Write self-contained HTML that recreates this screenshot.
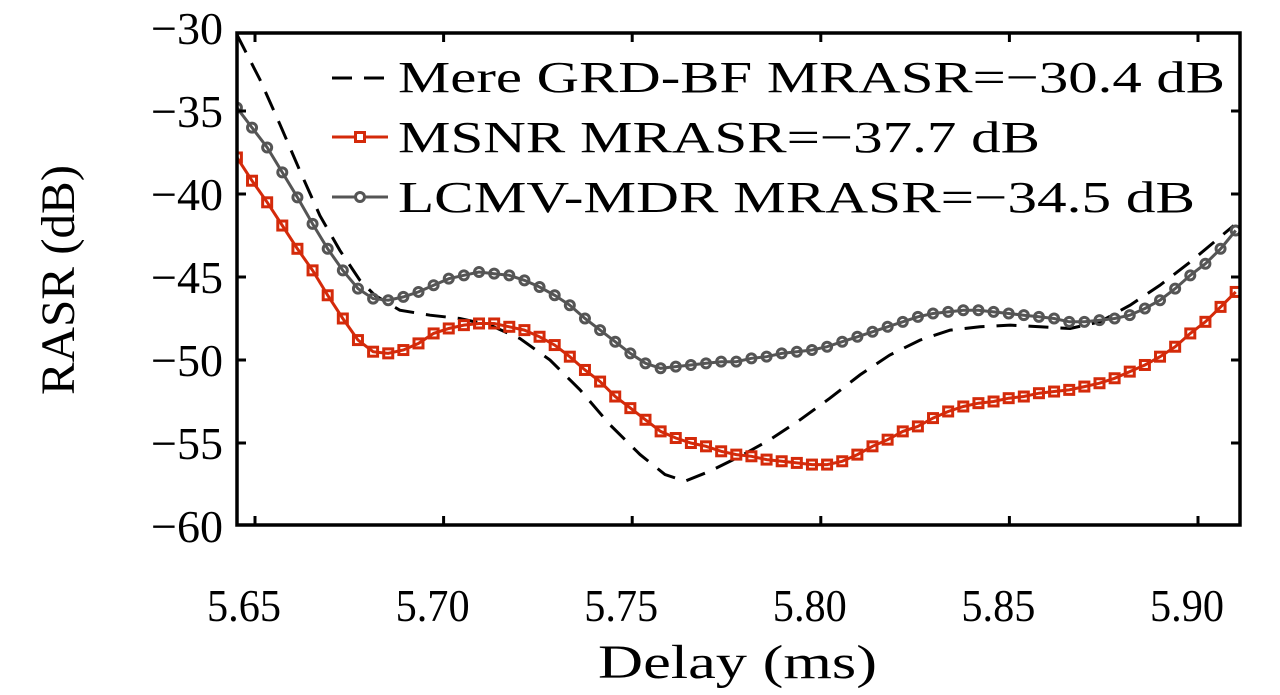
<!DOCTYPE html>
<html><head><meta charset="utf-8"><style>
html,body{margin:0;padding:0;background:#fff;}
svg{display:block;font-family:"Liberation Serif",serif;}
</style></head><body>
<svg id="chart" width="1280" height="695" viewBox="0 0 1280 695" xmlns="http://www.w3.org/2000/svg"></svg>
<script>
const yTicks = [-30,-35,-40,-45,-50,-55,-60];
const yTickLabels = ["−30","−35","−40","−45","−50","−55","−60"];
const xTicks = [5.65,5.70,5.75,5.80,5.85,5.90];
const xTickLabels = ["5.65","5.70","5.75","5.80","5.85","5.90"];
const sampleStart = 5.6452, sampleStep = 0.004012;
const msnrValues = [-37.8,-39.2,-40.5,-41.9,-43.3,-44.6,-46.1,-47.5,-48.8,-49.5,-49.6,-49.4,-49.0,-48.4,-48.1,-47.9,-47.8,-47.8,-48.0,-48.2,-48.6,-49.1,-49.8,-50.6,-51.3,-52.2,-52.9,-53.6,-54.3,-54.7,-55.0,-55.2,-55.5,-55.7,-55.8,-56.0,-56.1,-56.2,-56.3,-56.3,-56.1,-55.7,-55.2,-54.8,-54.3,-54.0,-53.5,-53.1,-52.8,-52.6,-52.5,-52.3,-52.2,-52.0,-51.9,-51.8,-51.6,-51.4,-51.1,-50.7,-50.3,-49.8,-49.2,-48.4,-47.7,-46.8,-45.9];
const lcmvValues = [-34.8,-36.0,-37.2,-38.7,-40.2,-41.8,-43.3,-44.6,-45.7,-46.3,-46.4,-46.2,-45.9,-45.5,-45.1,-44.9,-44.7,-44.8,-44.9,-45.2,-45.6,-46.1,-46.7,-47.5,-48.2,-48.9,-49.6,-50.2,-50.5,-50.4,-50.3,-50.2,-50.1,-50.1,-49.9,-49.8,-49.6,-49.5,-49.4,-49.2,-48.9,-48.6,-48.3,-48.0,-47.7,-47.4,-47.2,-47.1,-47.0,-47.0,-47.1,-47.2,-47.3,-47.4,-47.5,-47.7,-47.7,-47.6,-47.5,-47.3,-46.9,-46.4,-45.7,-44.9,-44.2,-43.3,-42.2];
const grdDelays = [5.6452,5.6513,5.6566,5.6619,5.6672,5.6725,5.6778,5.6818,5.6884,5.6964,5.7043,5.7123,5.7202,5.7282,5.7362,5.7441,5.7521,5.7587,5.7640,5.7706,5.7786,5.7865,5.7945,5.8024,5.8104,5.8183,5.8263,5.8343,5.8422,5.8502,5.8581,5.8661,5.8740,5.8820,5.8899,5.8979,5.9058,5.9095];
const grdValues = [-30.4,-33.1,-35.8,-38.6,-41.3,-43.4,-45.2,-46.1,-47.0,-47.3,-47.5,-47.9,-48.7,-50.0,-51.8,-53.9,-55.7,-56.9,-57.3,-56.7,-55.8,-54.8,-53.6,-52.3,-50.9,-49.7,-48.8,-48.2,-48.0,-47.9,-48.0,-48.1,-47.7,-46.7,-45.5,-44.1,-42.6,-41.9];

const NS="http://www.w3.org/2000/svg";
const svg=document.getElementById('chart');
const L=237,R=1240,T=33,B=525;
function xs(v){return 255+(v-5.65)*3772;}
function ys(v){return 28+(-30-v)*16.6;}
function mk(tag,attrs,parent){const e=document.createElementNS(NS,tag);for(const k in attrs)e.setAttribute(k,attrs[k]);(parent||svg).appendChild(e);return e;}
const sampleDelays = msnrValues.map((_,i)=>sampleStart+i*sampleStep);

const defs=mk('defs',{});
const cp=mk('clipPath',{id:'clip'},defs);
mk('rect',{x:L,y:T,width:R-L,height:B-T},cp);

function path(xsArr,vals){return xsArr.map((x,i)=>(i?'L':'M')+xs(x).toFixed(1)+','+ys(vals[i]).toFixed(1)).join(' ');}
const g=mk('g',{'clip-path':'url(#clip)'});


const grd=mk('path',{d:path(grdDelays,grdValues),fill:'none',stroke:'#000','stroke-width':3,'stroke-dasharray':'20,12'},g);


const lc=mk('path',{d:path(sampleDelays,lcmvValues),fill:'none',stroke:'#555','stroke-width':3},g);


lcmvValues.forEach((v,i)=>{const c=mk('circle',{cx:xs(sampleDelays[i]),cy:ys(v),r:4.5,fill:'none',stroke:'#555','stroke-width':3},g);

});
const ms=mk('path',{d:path(sampleDelays,msnrValues),fill:'none',stroke:'#d42a0a','stroke-width':3},g);


msnrValues.forEach((v,i)=>{const r=mk('rect',{x:xs(sampleDelays[i])-4.5,y:ys(v)-4.5,width:9,height:9,fill:'none',stroke:'#d42a0a','stroke-width':3},g);

});

const fr=mk('rect',{x:L,y:T,width:R-L,height:B-T,fill:'none',stroke:'#000','stroke-width':3.5});



yTicks.forEach((v,i)=>{const y=Math.min(B,Math.max(T,ys(v)));
mk('line',{x1:L,x2:L+9,y1:y,y2:y,stroke:'#000','stroke-width':3});
mk('line',{x1:R-9,x2:R,y1:y,y2:y,stroke:'#000','stroke-width':3});
const t=mk('text',{x:223,y:ys(v)+16,'text-anchor':'end','font-size':46,fill:'#000',textLength:72,lengthAdjust:'spacingAndGlyphs'});t.textContent=yTickLabels[i];

});
xTicks.forEach((v,i)=>{const x=xs(v);
mk('line',{x1:x,x2:x,y1:B,y2:B-9,stroke:'#000','stroke-width':3});
mk('line',{x1:x,x2:x,y1:T,y2:T+9,stroke:'#000','stroke-width':3});
const t=mk('text',{x:x-11,y:621,'text-anchor':'middle','font-size':46,fill:'#000',textLength:74,lengthAdjust:'spacingAndGlyphs'});t.textContent=xTickLabels[i];

});

const xt=mk('text',{x:598,y:678,'font-size':48,fill:'#000',textLength:279,lengthAdjust:'spacingAndGlyphs'});xt.textContent='Delay (ms)';


const yt=mk('text',{x:-115,y:0,'font-size':48,fill:'#000',textLength:230,lengthAdjust:'spacingAndGlyphs',transform:'translate(74,280) rotate(-90)'});yt.textContent='RASR (dB)';



const lg=mk('g',{});


mk('line',{x1:332,x2:388,y1:78,y2:78,stroke:'#000','stroke-width':3,'stroke-dasharray':'20,12'},lg);
mk('line',{x1:332,x2:388,y1:137,y2:137,stroke:'#d42a0a','stroke-width':3},lg);
mk('rect',{x:355.5,y:132.5,width:9,height:9,fill:'#fff',stroke:'#d42a0a','stroke-width':3},lg);
mk('line',{x1:332,x2:388,y1:197,y2:197,stroke:'#555','stroke-width':3},lg);
mk('circle',{cx:360,cy:197,r:4.5,fill:'#fff',stroke:'#555','stroke-width':3},lg);
const legTexts=[['Mere GRD-BF MRASR=−30.4 dB',92,827],['MSNR MRASR=−37.7 dB',152,642],['LCMV-MDR MRASR=−34.5 dB',212,797]];
legTexts.forEach(a=>{const t=mk('text',{x:398,y:a[1],'font-size':44,fill:'#000',textLength:a[2],lengthAdjust:'spacingAndGlyphs'},lg);t.textContent=a[0];

});
</script>
</body></html>
